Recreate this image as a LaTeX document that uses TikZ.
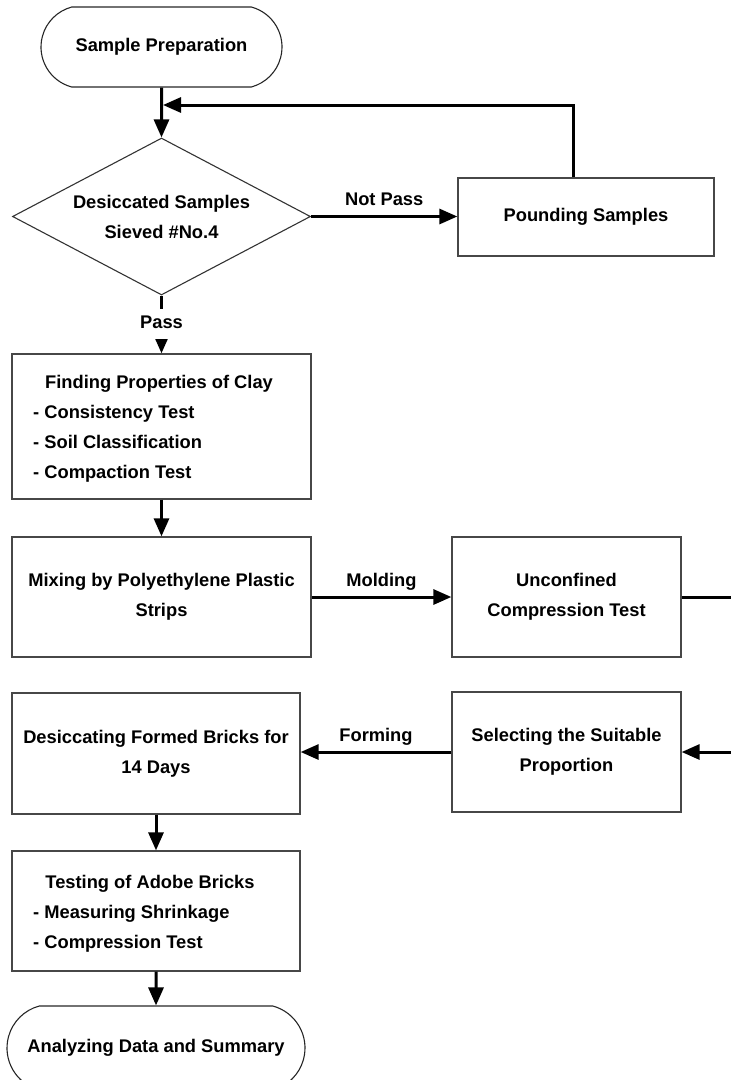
\documentclass[tikz,border=0pt]{standalone}
\usepackage{fontspec}
\setmainfont{Liberation Sans}
\usetikzlibrary{shapes.geometric,shapes.misc,arrows.meta}
\begin{document}
\begin{tikzpicture}[x=1pt,y=-1pt,
  every node/.style={font=\fontsize{18.3}{30}\selectfont\bfseries},
  box/.style={draw=black!72, line width=1.3pt, rectangle, inner sep=0pt, align=center},
  term/.style={draw=black!85, line width=1.1pt, rounded rectangle, rounded rectangle arc length=150, inner sep=0pt, align=center},
  dia/.style={draw=black!80, line width=1.1pt, diamond, shape aspect=1.9, inner sep=0pt, align=center},
  txt/.style={inner sep=0pt, text height=13pt, text depth=4pt},
  lbl/.style={inner sep=0pt, text height=13pt, text depth=4pt},
  conn/.style={draw=black, line width=3pt, -{Triangle[length=18pt,width=15pt]}}]
\useasboundingbox (0,0) rectangle (731,1080);
\clip (0,0) rectangle (731,1080);

% nodes
\node[term, minimum width=241pt, minimum height=80pt] (start) at (161.5,47) {Sample Preparation};
\node[dia, minimum width=298pt, minimum height=157pt] (dec) at (161.5,216.5) {Desiccated Samples\\Sieved \#No.4};
\node[box, minimum width=256pt, minimum height=78pt] (pound) at (586,217) {Pounding Samples};

\node[box, minimum width=299pt, minimum height=145pt] (find) at (161.5,426.5) {};
\node[txt] (findT) at (159,384) {Finding Properties of Clay};
\node[txt, anchor=west] (f1) at (33,414) {- Consistency Test};
\node[txt, anchor=west] (f2) at (33,444) {- Soil Classification};
\node[txt, anchor=west] (f3) at (33,474) {- Compaction Test};

\node[box, minimum width=299pt, minimum height=120pt] (mix) at (161.5,597) {Mixing by Polyethylene Plastic\\Strips};
\node[box, minimum width=229pt, minimum height=120pt] (unconf) at (566.5,597) {Unconfined\\Compression Test};

\node[box, minimum width=288pt, minimum height=121pt] (desic) at (156,753.5) {Desiccating Formed Bricks for\\14 Days};
\node[box, minimum width=229pt, minimum height=120pt] (select) at (566.5,752) {Selecting the Suitable\\Proportion};

\node[box, minimum width=288pt, minimum height=120pt] (test) at (156,911) {};
\node[txt] (testT) at (150,884) {Testing of Adobe Bricks};
\node[txt, anchor=west] (t1) at (33,914) {- Measuring Shrinkage};
\node[txt, anchor=west] (t2) at (33,944) {- Compression Test};

\node[term, minimum width=298pt, minimum height=84pt] (end) at (156,1048) {Analyzing Data and Summary};

% connectors
\coordinate (j) at (161.5,105);
\draw[conn] (start) -- (dec);
\draw[conn] (dec.east) -- node[lbl, above=6pt]{Not Pass} (dec.east -| pound.west);
\draw[conn] ([xshift=-13pt]pound.north) |- ([xshift=1.5pt]j);
\draw[conn] (dec.south) -- node[lbl, fill=white, minimum height=30pt]{Pass} (find.north);
\draw[conn] (find) -- (mix);
\draw[conn] (mix) -- node[lbl, above=5pt]{Molding} (unconf);
\draw[conn] (unconf.east) -- ++(60pt,0) |- (select.east);
\draw[conn] (select.west) -- node[lbl, above=5pt]{Forming} (select.west -| desic.east);
\draw[conn] (desic) -- (test);
\draw[conn] (test) -- (end);
\end{tikzpicture}
\end{document}
